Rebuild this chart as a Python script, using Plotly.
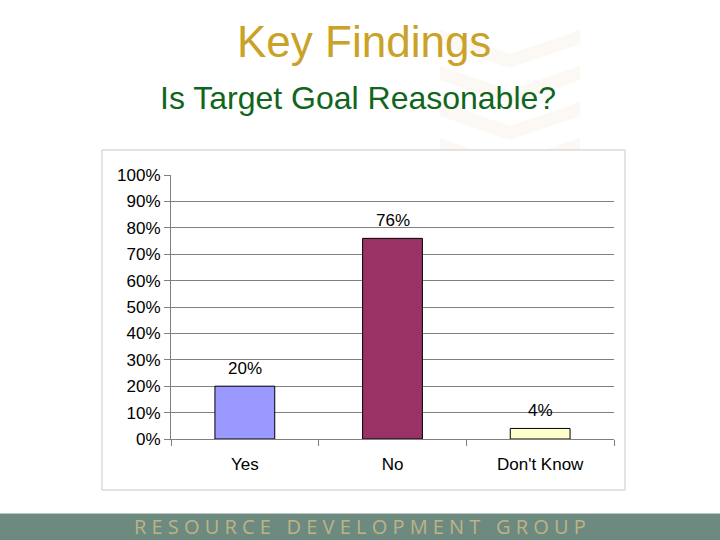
import plotly.graph_objects as go

categories = ["Yes", "No", "Don't Know"]
values = [0.20, 0.76, 0.04]
value_labels = ["20%", "76%", "4%"]
bar_colors = ["#9999ff", "#993366", "#ffffcc"]

title_text = "Key Findings"
subtitle_text = "Is Target Goal Reasonable?"
footer_text = "RESOURCE DEVELOPMENT GROUP"

# plot area pixel geometry
L, R, T, B = 171, 614, 175, 439
W, H = R - L, B - T


def px(x):
    return (x - L) / W


def py(y):
    return (B - y) / H


fig = go.Figure()
fig.add_trace(go.Bar(
    x=categories, y=values, width=0.405,
    marker=dict(color=bar_colors, line=dict(color="#000000", width=1)),
    hoverinfo="skip",
))

shapes = []
# faint chevron watermark
for top in [30, 66, 102, 138]:
    pts = [(440, top), (510, top + 24), (580, top), (580, top + 14), (510, top + 38), (440, top + 14)]
    path = "M " + " L ".join(f"{px(a):.4f},{py(b):.4f}" for a, b in pts) + " Z"
    shapes.append(dict(type="path", xref="paper", yref="paper", path=path,
                       fillcolor="#fcf9f4", line=dict(width=0), layer="below"))
# chart box
shapes.append(dict(type="rect", xref="paper", yref="paper",
                   x0=px(102), x1=px(625), y0=py(490), y1=py(150),
                   fillcolor="#ffffff", line=dict(color="#c8c8c8", width=1), layer="below"))
# footer band
shapes.append(dict(type="rect", xref="paper", yref="paper",
                   x0=px(-5), x1=px(725), y0=py(545), y1=py(513),
                   fillcolor="#6d8a80", line=dict(width=0), layer="below"))
shapes.append(dict(type="line", xref="paper", yref="paper",
                   x0=px(-5), x1=px(725), y0=py(513.5), y1=py(513.5),
                   line=dict(color="#b9c9c2", width=1), layer="below"))

footer_spaced = "   ".join(" ".join(w) for w in footer_text.split(" "))

annotations = [
    dict(text=title_text, xref="paper", yref="paper", x=px(364), y=py(42),
         showarrow=False, font=dict(family="Liberation Sans, Arial", size=44, color="#c9a227"),
         xanchor="center", yanchor="middle"),
    dict(text=subtitle_text, xref="paper", yref="paper", x=px(358), y=py(98),
         showarrow=False, font=dict(family="Liberation Sans, Arial", size=32, color="#0f661c"),
         xanchor="center", yanchor="middle"),
    dict(text=footer_spaced, xref="paper", yref="paper", x=px(360), y=py(526),
         showarrow=False, font=dict(family="Open Sans, DejaVu Sans", size=20, color="#bdb384"),
         xanchor="center", yanchor="middle"),
]
for c, v, t in zip(categories, values, value_labels):
    annotations.append(dict(x=c, y=v, text=t, showarrow=False, yanchor="bottom", yshift=6,
                            font=dict(family="Liberation Sans, Arial", size=17, color="#000000")))

fig.update_layout(
    width=720, height=540,
    margin=dict(l=L, r=720 - R, t=T, b=540 - B, pad=0),
    paper_bgcolor="#ffffff",
    plot_bgcolor="#c0c0c0",
    showlegend=False,
    shapes=shapes,
    annotations=annotations,
    bargap=0.595,
    font=dict(family="Liberation Sans, Arial", size=17, color="#000000"),
)
fig.update_yaxes(range=[0, 1], dtick=0.1, tickformat=".0%", gridcolor="#808080", gridwidth=1,
                 showline=True, linecolor="#808080", linewidth=1,
                 ticks="outside", ticklen=6, tickcolor="#808080", zeroline=False,
                 tickfont=dict(size=17))
fig.update_xaxes(showline=True, linecolor="#808080", linewidth=1, ticks="outside",
                 tickson="boundaries", ticklen=6, tickcolor="#808080",
                 tickfont=dict(size=17), ticklabelstandoff=10)

fig.write_html("out.html", config={"displayModeBar": False},
               post_script="document.body.style.margin='0';document.body.style.overflow='hidden';")
